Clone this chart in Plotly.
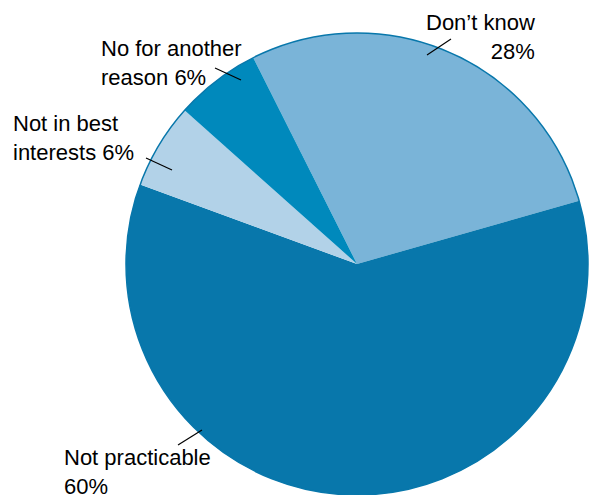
import plotly.graph_objects as go

# Survey responses, listed clockwise from the top of the pie
labels = ["Don’t know", "Not practicable", "Not in best interests", "No for another reason"]
values = [28, 60, 6, 6]
colors = ["#7ab4d8", "#0877ab", "#b2d2e8", "#0089bc"]

# Label text shown beside each slice
label_text = [
    "Don’t know<br>28%",
    "Not practicable<br>60%",
    "Not in best<br>interests 6%",
    "No for another<br>reason 6%",
]

W, H = 590, 495
ML, MR, MT, MB = 126, 2, 33, 0
PW, PH = W - ML - MR, H - MT - MB


def px(x, y):
    """Pixel position on the page -> paper coordinates."""
    return (x - ML) / PW, (H - MB - y) / PH


# Label placement (pixels): anchor point, horizontal anchor
label_pos = [(537, 37, "right"), (62, 472, "left"), (11, 138, "left"), (99, 63, "left")]
# Leader line end points (pixels)
leaders = [
    ((427, 55), (451, 39)),
    ((178, 445), (202, 430)),
    ((146, 158), (172, 170)),
    ((215, 68), (241, 80)),
]

fig = go.Figure(
    go.Pie(
        labels=labels,
        values=values,
        sort=False,
        direction="clockwise",
        rotation=-26.7,
        marker=dict(colors=colors, line=dict(width=0)),
        textinfo="none",
        hoverinfo="label+percent",
        showlegend=False,
        domain=dict(x=[0, 1], y=[0, 1]),
    )
)

shapes = [
    dict(type="circle", xref="paper", yref="paper", x0=0, y0=0, x1=1, y1=1,
         line=dict(color="#0877ab", width=1.5), layer="above")
]
for (p0, p1) in leaders:
    x0, y0 = px(*p0)
    x1, y1 = px(*p1)
    shapes.append(dict(type="line", xref="paper", yref="paper",
                       x0=x0, y0=y0, x1=x1, y1=y1,
                       line=dict(color="black", width=1.2), layer="above"))

annotations = []
for txt, (x, y, anc) in zip(label_text, label_pos):
    ax_, ay_ = px(x, y)
    annotations.append(dict(
        text=txt, x=ax_, y=ay_, xref="paper", yref="paper",
        xanchor=anc, yanchor="middle", align=anc, showarrow=False,
        font=dict(family="Liberation Sans, Arial, sans-serif", size=22, color="#000000"),
    ))

fig.update_layout(
    width=W, height=H,
    margin=dict(l=ML, r=MR, t=MT, b=MB, pad=0),
    paper_bgcolor="white",
    plot_bgcolor="white",
    shapes=shapes,
    annotations=annotations,
)

fig.write_html("out.html")
